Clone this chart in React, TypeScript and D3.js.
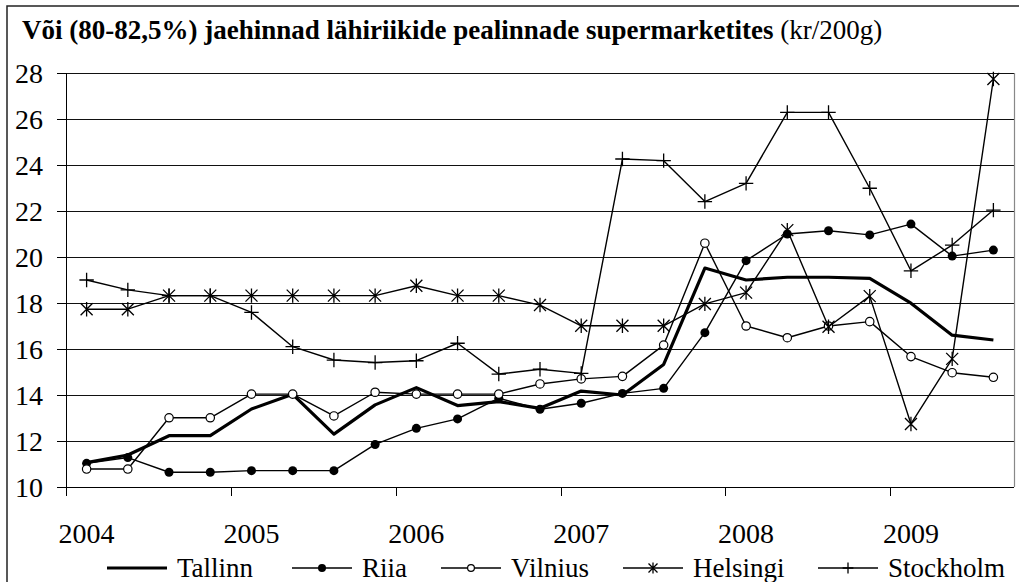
import React from "react";
import * as d3 from "d3";

const periods = [
  "2004 I", "2004 II", "2004 III", "2004 IV",
  "2005 I", "2005 II", "2005 III", "2005 IV",
  "2006 I", "2006 II", "2006 III", "2006 IV",
  "2007 I", "2007 II", "2007 III", "2007 IV",
  "2008 I", "2008 II", "2008 III", "2008 IV",
  "2009 I", "2009 II", "2009 III",
];
const yearLabels = ["2004", "2005", "2006", "2007", "2008", "2009"];
const yTicks = [10, 12, 14, 16, 18, 20, 22, 24, 26, 28];

const tallinn = [11.06, 11.39, 12.23, 12.23, 13.39, 14.03, 12.30, 13.57, 14.32, 13.54, 13.71, 13.42, 14.17, 14.00, 15.33, 19.52, 19.00, 19.12, 19.12, 19.07, 17.99, 16.60, 16.39];
const riia = [11.03, 11.28, 10.64, 10.64, 10.71, 10.71, 10.71, 11.85, 12.55, 12.96, 13.86, 13.38, 13.64, 14.07, 14.29, 16.71, 19.84, 21.00, 21.14, 20.96, 21.43, 20.04, 20.30];
const vilnius = [10.78, 10.78, 13.01, 13.01, 14.04, 14.04, 13.09, 14.12, 14.04, 14.04, 14.04, 14.48, 14.70, 14.81, 16.17, 20.60, 17.00, 16.49, 17.00, 17.19, 15.67, 14.97, 14.77];
const helsingi = [17.73, 17.73, 18.32, 18.32, 18.32, 18.32, 18.32, 18.32, 18.75, 18.32, 18.32, 17.91, 17.01, 17.01, 17.01, 17.96, 18.45, 21.17, 16.97, 18.30, 12.74, 15.57, 27.74];
const stockholm = [19.00, 18.57, 18.32, 18.32, 17.59, 16.10, 15.52, 15.41, 15.49, 16.25, 14.91, 15.12, 14.94, 24.26, 24.19, 22.41, 23.20, 26.29, 26.29, 22.99, 19.40, 20.52, 22.04];

const seriesNames = ["Tallinn", "Riia", "Vilnius", "Helsingi", "Stockholm"];
const seriesData = [tallinn, riia, vilnius, helsingi, stockholm];
const kinds = ["none", "dot", "ring", "star", "plus"];

const FONT = '"Liberation Serif"';
const W = 1019, H = 582;
const left = 66, right = 1014, top = 73, bottom = 487;

const x = d3.scaleBand().domain(periods).range([left, right]).padding(0);
const cx = (i: number) => (x(periods[i]) as number) + x.bandwidth() / 2;
const y = d3.scaleLinear().domain([10, 28]).range([bottom, top]);
const line = d3.line<number>().x((d, i) => cx(i)).y((d) => y(d));
const px = (v: number) => Math.round(v) + 0.5;

function Marker({ kind, x0, y0, big }) {
  const s = big ? 6 : 4.5;
  if (kind === "dot") return <circle cx={x0} cy={y0} r={big ? 4.5 : 4} fill="#000" />;
  if (kind === "ring")
    return <circle cx={x0} cy={y0} r={big ? 4.2 : 3.4} fill="#fff" stroke="#000" strokeWidth={1.2} />;
  if (kind === "star")
    return (
      <path transform={`translate(${x0},${y0})`} fill="none" stroke="#000" strokeWidth={1.3}
        d={`M${-s},${-s}L${s},${s}M${-s},${s}L${s},${-s}M0,${-s * 1.2}L0,${s * 1.2}`} />
    );
  if (kind === "plus")
    return (
      <path transform={`translate(${x0},${y0})`} fill="none" stroke="#000" strokeWidth={1.3}
        d={`M${-s * 1.2},0L${s * 1.2},0M0,${-s * 1.2}L0,${s * 1.2}`} />
    );
  return null;
}

const legendX = [107, 292, 441, 623, 818];

export default function App() {
  return (
    <svg width={W} height={H} style={{ position: "absolute", left: 0, top: 0, background: "#fff" }}>
      <rect width={W} height={H} fill="#fff" />
      <rect x={7} y={6} width={1200} height={800} fill="none" stroke="#222" strokeWidth={1.5} />

      <text x={22} y={39} fontSize={27} fill="#000" fontFamily={FONT}>
        <tspan fontWeight="bold" fontFamily={FONT}>Või (80-82,5%) jaehinnad lähiriikide pealinnade supermarketites</tspan>
        <tspan fontFamily={FONT}> (kr/200g)</tspan>
      </text>

      {yTicks.filter((t) => t > 10).map((t) => (
        <line key={"g" + t} x1={left} x2={right} y1={px(y(t))} y2={px(y(t))} stroke="#111" strokeWidth={1} />
      ))}
      <line x1={right + 0.5} x2={right + 0.5} y1={top} y2={bottom} stroke="#888" strokeWidth={1.2} />

      <line x1={left + 0.5} x2={left + 0.5} y1={top} y2={bottom + 0.5} stroke="#000" />
      {yTicks.map((t) => (
        <g key={"y" + t}>
          <line x1={left - 9} x2={left} y1={px(y(t))} y2={px(y(t))} stroke="#000" />
          <text x={43} y={y(t) + 10} textAnchor="end" fontSize={28} fontFamily={FONT}>{String(t)}</text>
        </g>
      ))}

      <line x1={left} x2={right} y1={bottom + 0.5} y2={bottom + 0.5} stroke="#000" />
      {yearLabels.map((lab, k) => (
        <g key={lab}>
          <line x1={px(x(periods[k * 4]) as number)} x2={px(x(periods[k * 4]) as number)}
            y1={bottom} y2={bottom + 9} stroke="#000" />
          <text x={cx(k * 4)} y={543} textAnchor="middle" fontSize={28} fontFamily={FONT}>{lab}</text>
        </g>
      ))}

      {seriesData.map((vals, s) => (
        <g key={seriesNames[s]}>
          <path d={line(vals) as string} fill="none" stroke="#000" strokeWidth={s === 0 ? 3.2 : 1.4}
            strokeLinejoin="round" />
          {vals.map((v, i) => (
            <Marker key={i} kind={kinds[s]} x0={cx(i)} y0={y(v)} big={true} />
          ))}
        </g>
      ))}

      {seriesNames.map((name, s) => {
        const lx = legendX[s];
        return (
          <g key={"l" + name}>
            <line x1={lx} x2={lx + 60} y1={568} y2={568} stroke="#000" strokeWidth={s === 0 ? 3.2 : 1.4} />
            <Marker kind={kinds[s]} x0={lx + 30} y0={568} big={false} />
            <text x={lx + 70} y={577} fontSize={27} fontFamily={FONT}>{name}</text>
          </g>
        );
      })}
    </svg>
  );
}
